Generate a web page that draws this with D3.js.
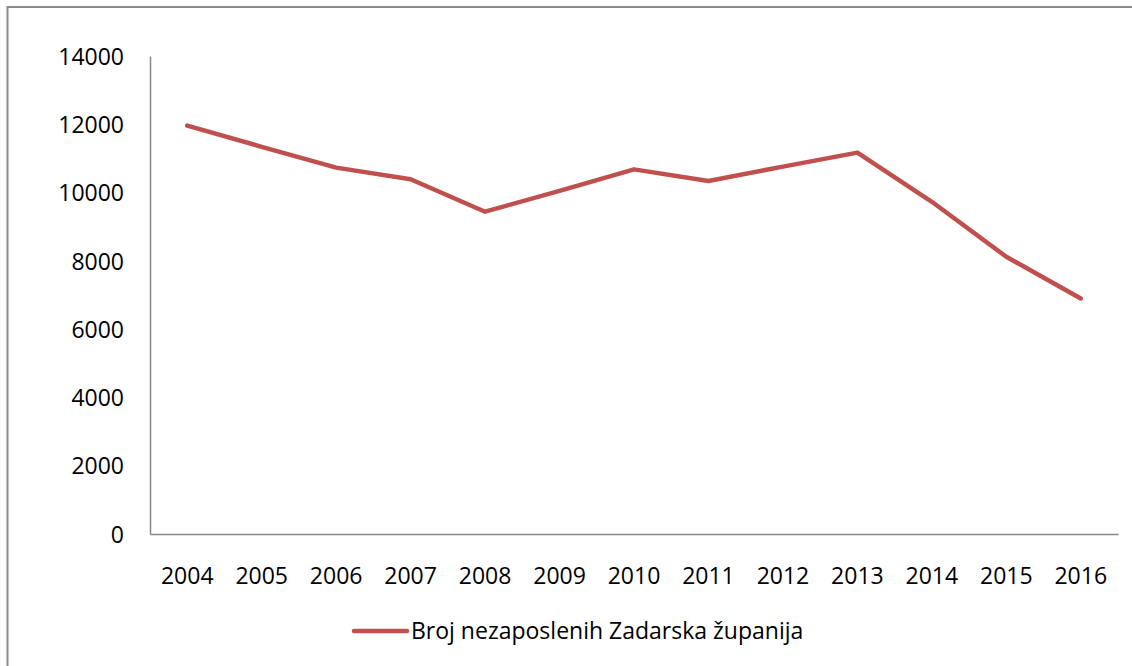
<!DOCTYPE html>
<html>
<head>
<meta charset="utf-8">
<script src="https://cdn.jsdelivr.net/npm/d3@7"></script>
<style>
  body { margin: 0; background: #fff; }
  text { font-family: "Open Sans", sans-serif; fill: #000; }
</style>
</head>
<body>
<div class="chart"></div>
<script>
const years = ['2004', '2005', '2006', '2007', '2008', '2009', '2010',
  '2011', '2012', '2013', '2014', '2015', '2016'];
const unemployed = [11960, 11340, 10730, 10390, 9440, 10050, 10680,
  10340, 10760, 11170, 9730, 8120, 6900];
const yTicks = [0, 2000, 4000, 6000, 8000, 10000, 12000, 14000];
const seriesName = 'Broj nezaposlenih Zadarska županija';

const width = 1132, height = 666;
const margin = { left: 150, right: 14, top: 56, bottom: 132 };

const svg = d3.select('.chart').append('svg')
  .attr('width', width)
  .attr('height', height);

// outer chart frame (right/bottom edges fall outside the picture)
svg.append('rect')
  .attr('x', 7.5).attr('y', 7)
  .attr('width', 1200).attr('height', 700)
  .attr('fill', 'none')
  .attr('stroke', '#8a8a8a')
  .attr('stroke-width', 2);

const x = d3.scaleBand()
  .domain(years)
  .range([margin.left, width - margin.right]);

const y = d3.scaleLinear()
  .domain([0, 14000])
  .range([height - margin.bottom, margin.top]);

// y axis
const yAxis = svg.append('g')
  .attr('transform', `translate(${margin.left},0)`)
  .call(d3.axisLeft(y).tickValues(yTicks).tickSize(0).tickPadding(26).tickFormat(d3.format('d')));
yAxis.select('.domain').attr('stroke', '#868686').attr('stroke-width', 1.5);
yAxis.selectAll('text').style('font-size', '23px').attr('dy', '0.36em');

// x axis
const xAxis = svg.append('g')
  .attr('transform', `translate(0,${y(0)})`)
  .call(d3.axisBottom(x).tickSize(0).tickPadding(34));
xAxis.select('.domain').attr('stroke', '#868686').attr('stroke-width', 1.5);
xAxis.selectAll('text').style('font-size', '23px');

const line = d3.line()
  .x((d, i) => x(years[i]) + x.bandwidth() / 2)
  .y(d => y(d));

svg.append('path')
  .datum(unemployed)
  .attr('d', line)
  .attr('fill', 'none')
  .attr('stroke', '#C0504D')
  .attr('stroke-width', 4.5)
  .attr('stroke-linejoin', 'round')
  .attr('stroke-linecap', 'round');

// legend
const legend = svg.append('g').attr('transform', 'translate(0,631)');
legend.append('line')
  .attr('x1', 354).attr('x2', 407)
  .attr('y1', 0).attr('y2', 0)
  .attr('stroke', '#C0504D')
  .attr('stroke-width', 4.5)
  .attr('stroke-linecap', 'round');
legend.append('text')
  .attr('x', 411)
  .attr('dy', '0.36em')
  .style('font-size', '23px')
  .text(seriesName);
</script>
</body>
</html>
